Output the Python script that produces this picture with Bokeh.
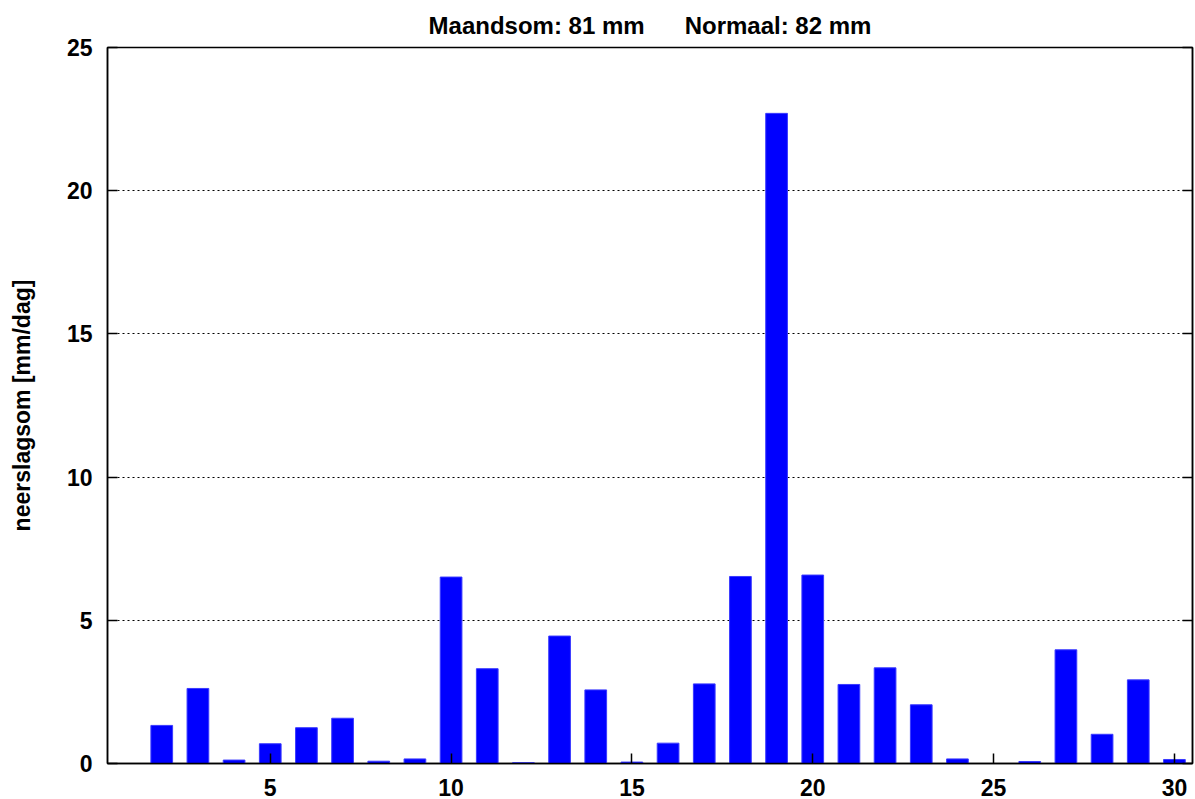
from bokeh.plotting import figure
from bokeh.models import Range1d, LinearAxis, FixedTicker, CustomJSTickFormatter
from bokeh.embed import file_html
from bokeh.resources import INLINE

# Data: daily precipitation (mm/day) per day of month
days = list(range(1, 31))
precip = [0.0, 1.33, 2.62, 0.12, 0.69, 1.25, 1.58, 0.08, 0.16, 6.51,
          3.31, 0.03, 4.45, 2.57, 0.05, 0.71, 2.78, 6.53, 22.70, 6.58,
          2.76, 3.34, 2.05, 0.16, 0.0, 0.07, 3.97, 1.02, 2.92, 0.14]
y_ticks = [0, 5, 10, 15, 20, 25]
x_ticks = [5, 10, 15, 20, 25, 30]
grid_ticks = [5, 10, 15, 20]
title_parts = ["Maandsom: 81 mm", "Normaal: 82 mm"]
y_label = "neerslagsom [mm/dag]"

FONT = "Liberation Sans"
FS = "23px"

p = figure(width=1194, height=799, output_backend="svg", toolbar_location=None,
           x_range=Range1d(0.5, 30.5), y_range=Range1d(0, 25),
           min_border_left=107, min_border_right=2, min_border_top=47,
           min_border_bottom=36, title=("\u00a0" * 6).join(title_parts))
p.background_fill_color = "white"
p.border_fill_color = "white"
p.outline_line_color = "black"
p.outline_line_width = 1.5

p.title.align = "center"
p.title.text_font = FONT
p.title.text_font_style = "bold"
p.title.text_font_size = "24px"
p.title.text_color = "black"
p.title.standoff = 18

p.vbar(x=days, top=precip, width=0.6, fill_color="#0000FF",
       line_color="#3a3aff", line_width=1)

p.xgrid.visible = False
p.ygrid.ticker = FixedTicker(ticks=grid_ticks)
p.ygrid.grid_line_color = "black"
p.ygrid.grid_line_dash = "2 3"
p.ygrid.grid_line_width = 1

for ax, ticks in ((p.xaxis[0], x_ticks), (p.yaxis[0], y_ticks)):
    ax.ticker = FixedTicker(ticks=ticks)
    ax.major_tick_in = 10
    ax.major_tick_out = 0
    ax.minor_tick_in = 0
    ax.minor_tick_out = 0
    ax.axis_line_color = "black"
    ax.axis_line_width = 1.5
    ax.major_tick_line_color = "black"
    ax.major_tick_line_width = 1.5
    ax.major_label_text_font = FONT
    ax.major_label_text_font_style = "bold"
    ax.major_label_text_font_size = FS
    ax.major_label_text_color = "black"

p.xaxis[0].major_label_standoff = 15
p.yaxis[0].major_label_standoff = 15
p.yaxis[0].axis_label = y_label
p.yaxis[0].axis_label_text_font = FONT
p.yaxis[0].axis_label_text_font_style = "bold"
p.yaxis[0].axis_label_text_font_size = FS
p.yaxis[0].axis_label_text_color = "black"
p.yaxis[0].axis_label_standoff = 29

right = LinearAxis(ticker=FixedTicker(ticks=y_ticks),
                   formatter=CustomJSTickFormatter(code="return ''"))
right.major_tick_in = 10
right.major_tick_out = 0
right.minor_tick_in = 0
right.minor_tick_out = 0
right.major_label_standoff = 0
right.major_label_text_font_size = "1px"
right.axis_line_color = "black"
right.axis_line_width = 1.5
right.major_tick_line_width = 1.5
p.add_layout(right, "right")

open("out.html", "w").write(file_html(p, INLINE))
